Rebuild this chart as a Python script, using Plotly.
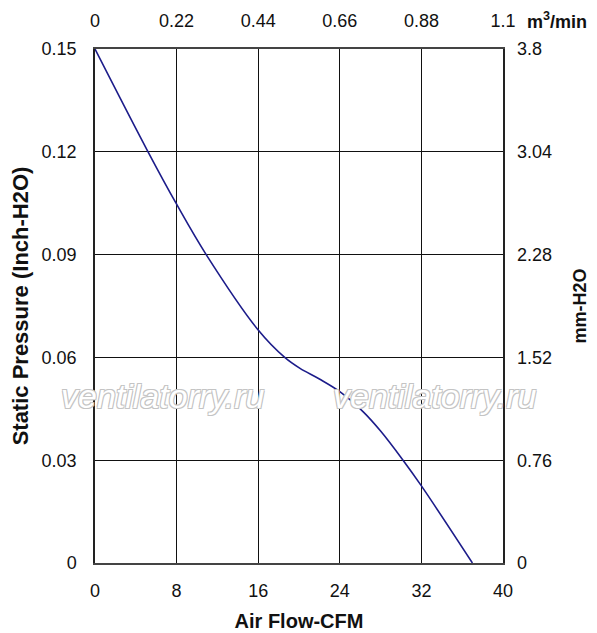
import plotly.graph_objects as go

# Fan curve (CFM vs inch-H2O)
airflow_cfm = [0, 5.2, 8, 10.9, 16, 18.6, 20.1, 22, 24, 26.3, 28, 30.2, 32, 37.0]
pressure_inh2o = [0.15, 0.12, 0.1047, 0.09, 0.068, 0.06, 0.0568, 0.0537, 0.0500, 0.0441, 0.0385, 0.03, 0.0225, 0]

cfm_ticks = [0, 8, 16, 24, 32, 40]
inh2o_ticks = [0, 0.03, 0.06, 0.09, 0.12, 0.15]
m3min_labels = ["0", "0.22", "0.44", "0.66", "0.88", "1.1"]
mmh2o_labels = ["0", "0.76", "1.52", "2.28", "3.04", "3.8"]

# scale factors between the paired axes (40 CFM <-> 1.1 m3/min, 0.15 inch <-> 3.8 mm)
m3_per_cfm = 1.1 / 40
mm_per_inch = 3.8 / 0.15

watermark = "ventilatorry.ru"

FONT = "Arial, Liberation Sans, sans-serif"
tick_font = dict(family=FONT, size=18, color="#111")

fig = go.Figure()

fig.add_trace(go.Scatter(
    x=airflow_cfm, y=pressure_inh2o,
    mode="lines", line=dict(color="#1c1c8a", width=1.6, shape="spline", smoothing=1.0),
    hoverinfo="skip", showlegend=False,
))

# same curve in metric units, invisible, only to hold the top/right axes
fig.add_trace(go.Scatter(
    x=[v * m3_per_cfm for v in airflow_cfm],
    y=[v * mm_per_inch for v in pressure_inh2o],
    xaxis="x2", yaxis="y2",
    mode="lines", line=dict(color="rgba(0,0,0,0)", width=0),
    hoverinfo="skip", showlegend=False,
))

axis_common = dict(showgrid=False, zeroline=False, ticks="", tickfont=tick_font, automargin=False)

# page body has an 8px margin, so the figure is 8px smaller each way
fig.update_layout(
    width=589, height=625,
    margin=dict(l=87, r=94, t=41, b=70),
    paper_bgcolor="white", plot_bgcolor="white",
    font=dict(family=FONT, color="#111"),
    xaxis=dict(
        axis_common, range=[0, 40], tickvals=cfm_ticks,
        showgrid=True, gridcolor="#111", gridwidth=1,
        showline=True, linecolor="#444", linewidth=2, mirror=True,
        ticklabelstandoff=10,
        title=dict(text="<b>Air Flow-CFM</b>", font=dict(size=20), standoff=14),
    ),
    yaxis=dict(
        axis_common, range=[0, 0.15], tickvals=inh2o_ticks,
        ticktext=[str(v) for v in inh2o_ticks],
        showgrid=True, gridcolor="#111", gridwidth=1,
        showline=True, linecolor="#222", linewidth=1.5, mirror=True,
        ticklabelstandoff=13,
        title=dict(text="<b>Static Pressure (Inch-H2O)</b>", font=dict(size=22), standoff=12),
    ),
    xaxis2=dict(
        axis_common, overlaying="x", side="top", range=[0, 1.1],
        tickvals=[v * m3_per_cfm for v in cfm_ticks], ticktext=m3min_labels,
        ticklabelstandoff=17,
    ),
    yaxis2=dict(
        axis_common, overlaying="y", side="right", range=[0, 3.8],
        tickvals=[v * mm_per_inch for v in inh2o_ticks], ticktext=mmh2o_labels,
        ticklabelstandoff=13,
        title=dict(text="<b>mm-H2O</b>", font=dict(size=18), standoff=22),
    ),
)

# unit label for the top axis sits beside the last tick
fig.add_annotation(
    xref="paper", yref="paper", x=1.055, y=1.0, yshift=29,
    xanchor="left", yanchor="middle", showarrow=False,
    text="<b>m<sup>3</sup>/min</b>", font=dict(family=FONT, size=18, color="#111"),
)

# outlined watermark text
outline = "1px 1px 0 #c4c4c4, -1px -1px 0 #c4c4c4, 1px -1px 0 #c4c4c4, -1px 1px 0 #c4c4c4"
for cx in [6.7, 33.3]:
    fig.add_annotation(
        x=cx, y=0.0487, xref="x", yref="y", showarrow=False,
        text=watermark,
        font=dict(family=FONT, size=34, color="white", style="italic", shadow=outline),
    )

fig.write_html("out.html")
